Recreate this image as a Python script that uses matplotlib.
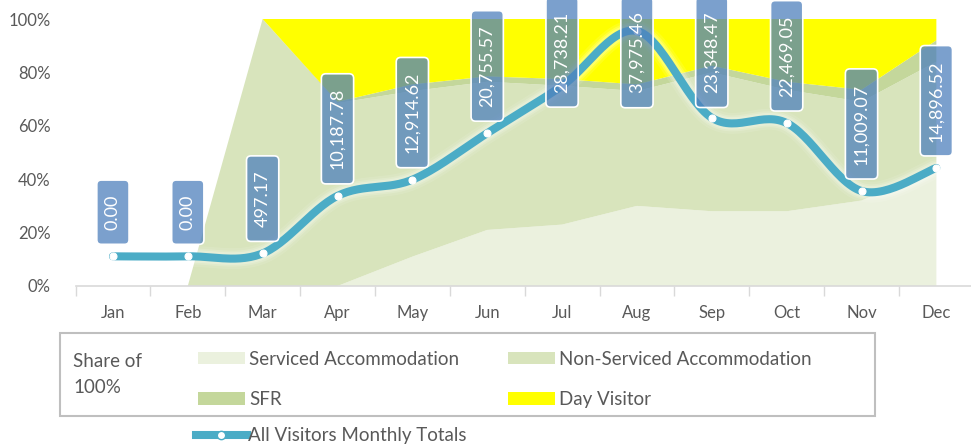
import numpy as np
import matplotlib.pyplot as plt
from matplotlib.patches import Patch, Rectangle, BoxStyle
from matplotlib.lines import Line2D
from matplotlib.ticker import FixedLocator, PercentFormatter

plt.rcParams['font.family'] = ['Lato', 'DejaVu Sans']

months = ['Jan', 'Feb', 'Mar', 'Apr', 'May', 'Jun',
          'Jul', 'Aug', 'Sep', 'Oct', 'Nov', 'Dec']

# share of 100% by visitor type
serviced = [0, 0, 0, 0, 11, 21, 23, 30, 28, 28, 32, 44]
non_serviced = [0, 0, 100, 68.5, 62, 55.5, 52, 43, 52, 45.5, 37, 40]
sfr = [0, 0, 0, 0.5, 2.5, 2, 2.5, 2.5, 2.5, 3, 4.5, 8]
day_visitor = [0, 0, 0, 31, 24.5, 21.5, 22.5, 24.5, 17.5, 23.5, 26.5, 8]

monthly_totals = [0.00, 0.00, 497.17, 10187.78, 12914.62, 20755.57,
                  28738.21, 37975.46, 23348.47, 22469.05, 11009.07, 14896.52]

area_names = ['Serviced Accommodation', 'Non-Serviced Accommodation',
              'SFR', 'Day Visitor']
area_colors = ['#EBF1DE', '#D8E4BC', '#C4D79B', '#FFFF00']
line_color = '#4BACC6'
text_color = '#595959'
grid_grey = '#D9D9D9'


def catmull_rom(x, y, steps=30):
    """Smooth curve through every point (uniform Catmull-Rom)."""
    p = np.column_stack([x, y]).astype(float)
    p = np.vstack([p[0], p, p[-1]])
    out = []
    t = np.linspace(0, 1, steps, endpoint=False)[:, None]
    for i in range(1, len(p) - 2):
        p0, p1, p2, p3 = p[i - 1], p[i], p[i + 1], p[i + 2]
        seg = 0.5 * ((2 * p1) + (-p0 + p2) * t
                     + (2 * p0 - 5 * p1 + 4 * p2 - p3) * t ** 2
                     + (-p0 + 3 * p1 - 3 * p2 + p3) * t ** 3)
        out.append(seg)
    out.append(p[-2][None, :])
    out = np.vstack(out)
    return out[:, 0], out[:, 1]


def label_box(x0, y0, width, height, mutation_size):
    # longer padding along the text than across it
    padx = 0.8 * mutation_size
    pady = 0.45 * mutation_size
    rnd = BoxStyle.Round(pad=0, rounding_size=0.25)
    return rnd(x0 - padx, y0 - pady, width + 2 * padx, height + 2 * pady,
               mutation_size)


fig = plt.figure(figsize=(9.71, 4.46), dpi=100)
ax = fig.add_axes([75.5 / 971, 160 / 446, 898.3 / 971, 267 / 446])
x = np.arange(len(months))

ax.stackplot(x, serviced, non_serviced, sfr, day_visitor,
             colors=area_colors, linewidth=0)
ax.set_xlim(-0.5, 11.5)
ax.set_ylim(0, 100)
ax.yaxis.set_major_locator(FixedLocator([0, 20, 40, 60, 80, 100]))
ax.yaxis.set_major_formatter(PercentFormatter(decimals=0))
ax.set_xticks(x)
ax.set_xticklabels(months)
ax.set_xticks(np.arange(-0.5, 12, 1), minor=True)
ax.tick_params(axis='x', which='major', length=0, pad=14,
               labelsize=12, labelcolor=text_color)
ax.tick_params(axis='x', which='minor', length=7, width=1, color=grid_grey)
ax.tick_params(axis='y', length=0, pad=18, labelsize=12, labelcolor=text_color)
for side in ['left', 'right', 'top']:
    ax.spines[side].set_visible(False)
ax.spines['bottom'].set_color(grid_grey)
ax.spines['bottom'].set_linewidth(1.2)

# monthly totals on a hidden secondary axis
ax2 = ax.twinx()
ax2.set_ylim(-5000, 40000)
ax2.set_axis_off()
sx, sy = catmull_rom(x, monthly_totals)
for w, a in [(15, 0.10), (11.5, 0.16), (9, 0.22)]:
    ax2.plot(sx, sy, color='white', lw=w, alpha=a, solid_capstyle='round')
ax2.plot(sx, sy, color=line_color, lw=5.8, solid_capstyle='round')
ax2.plot(x, monthly_totals, 'o', ms=5, mfc='white', mec='white', mew=0.8)

fs_px = 13 * 100 / 72
base_off = 12 + 0.8 * fs_px
labels = []
for xi, v in zip(x, monthly_totals):
    ann = ax2.annotate(f'{v:,.2f}', (xi, v), xytext=(0, base_off),
                       textcoords='offset pixels', rotation=90,
                       ha='center', va='bottom', fontsize=13, color='white',
                       annotation_clip=False,
                       bbox=dict(boxstyle=label_box,
                                 fc=(79 / 255, 129 / 255, 189 / 255, 0.75),
                                 ec='white', lw=1.2))
    labels.append(ann)

# legend block
fig.add_artist(Rectangle((60 / 971, 1 - 416 / 446), 815 / 971, 83 / 446,
                         transform=fig.transFigure, fill=False,
                         ec='#BFBFBF', lw=1.5))
fig.text(73 / 971, 1 - 374.5 / 446, 'Share of\n100%', ha='left', va='center',
         fontsize=13.5, color=text_color, linespacing=1.65)

handles = [Patch(fc=c, ec='none') for c in area_colors]
leg_kw = dict(frameon=False, fontsize=13.5, labelcolor=text_color,
              handlelength=2.5, handleheight=0.65, handletextpad=0.22,
              labelspacing=1.25, borderpad=0, borderaxespad=0,
              loc='center left')
fig.legend([handles[0], handles[2]], [area_names[0], area_names[2]],
           bbox_to_anchor=(198 / 971, 1 - 379.5 / 446), **leg_kw)
fig.legend([handles[1], handles[3]], [area_names[1], area_names[3]],
           bbox_to_anchor=(508 / 971, 1 - 379.5 / 446), **leg_kw)

line_handle = Line2D([], [], color=line_color, lw=5.8, marker='o', ms=6,
                     mfc='white', mec=line_color, mew=1)
fig.legend([line_handle], ['All Visitors Monthly Totals'], frameon=False,
           fontsize=13.5, labelcolor=text_color, handlelength=2.7,
           handletextpad=0.1, borderpad=0, borderaxespad=0, loc='center left',
           bbox_to_anchor=(196 / 971, 1 - 436 / 446))

# slide any label that runs past the top edge down until it just fits
fig.canvas.draw()
renderer = fig.canvas.get_renderer()
fig_h = fig.bbox.height
for ann in labels:
    top = ann.get_bbox_patch().get_window_extent(renderer).y1
    if top > fig_h:
        ann.xyann = (0, base_off - (top - fig_h) + 3)

fig.savefig('out.png', dpi=100)
